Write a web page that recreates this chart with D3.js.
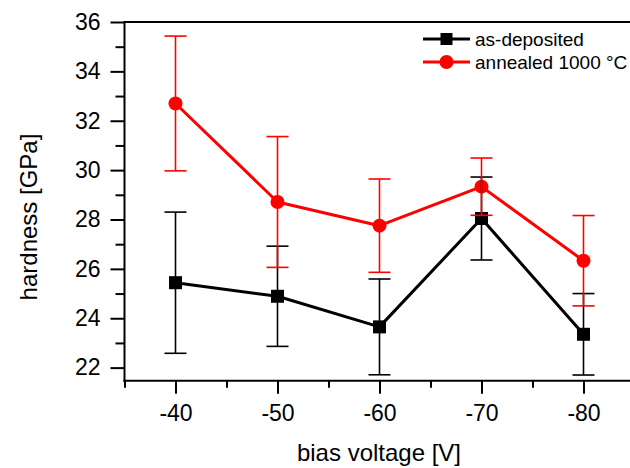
<!DOCTYPE html>
<html><head><meta charset="utf-8">
<script src="https://cdn.jsdelivr.net/npm/d3@7"></script>
<style>
body{margin:0;background:#fff;}
svg{display:block;font-family:"Liberation Sans",Arial,sans-serif;}
</style></head>
<body><svg id="c" width="630" height="468"></svg>
<script>
const biasVoltage = [-40, -50, -60, -70, -80];
const asDeposited = [25.44, 24.89, 23.65, 28.04, 23.35];
const asDepositedErr = [2.86, 2.03, 1.94, 1.68, 1.65];
const annealed = [32.70, 28.71, 27.75, 29.33, 26.33];
const annealedErr = [2.73, 2.65, 1.89, 1.16, 1.83];
const yMajorTicks = [22, 24, 26, 28, 30, 32, 34, 36];
const yMinorTicks = [23, 25, 27, 29, 31, 33, 35];
const xMajorTicks = [-40, -50, -60, -70, -80];
const xMinorTicks = [-35, -45, -55, -65, -75, -85];
const seriesNames = ["as-deposited", "annealed 1000 °C"];

const svg = d3.select("#c");
const x = d3.scaleLinear().domain([-35, -85]).range([124.5, 634.5]);
const y = d3.scaleLinear().domain([21.47, 36]).range([380.7, 22]);
const fmt = d => String(d);

// top frame line
svg.append("line").attr("x1", x(-35)).attr("x2", 640).attr("y1", y(36)).attr("y2", y(36))
  .attr("stroke", "#000").attr("stroke-width", 2);

// y axis
const gy = svg.append("g").attr("transform", `translate(${x(-35)},0)`);
gy.call(d3.axisLeft(y).tickValues(yMinorTicks).tickSize(9).tickSizeOuter(0).tickFormat(""));
gy.select(".domain").remove();
const gy2 = svg.append("g").attr("transform", `translate(${x(-35)},0)`);
gy2.call(d3.axisLeft(y).tickValues(yMajorTicks).tickSize(14).tickSizeOuter(0).tickPadding(10).tickFormat(fmt));
gy2.select(".domain").remove();
[gy, gy2].forEach(g => {
  g.selectAll("line").attr("stroke", "#000").attr("stroke-width", 2);
  g.selectAll("text").attr("font-size", 23).attr("fill", "#000").attr("font-family", "Liberation Sans, Arial, sans-serif");
});

// x axis
const gx = svg.append("g").attr("transform", `translate(0,${y(21.47)})`);
gx.call(d3.axisBottom(x).tickValues(xMinorTicks).tickSize(7).tickSizeOuter(0).tickFormat(""));
gx.select(".domain").remove();
const gx2 = svg.append("g").attr("transform", `translate(0,${y(21.47)})`);
gx2.call(d3.axisBottom(x).tickValues(xMajorTicks).tickSize(13).tickSizeOuter(0).tickPadding(11).tickFormat(fmt));
gx2.select(".domain").remove();
svg.append("line").attr("x1", x(-35) - 1).attr("x2", 640).attr("y1", y(21.47)).attr("y2", y(21.47))
  .attr("stroke", "#000").attr("stroke-width", 2);
svg.append("line").attr("x1", x(-35)).attr("x2", x(-35)).attr("y1", y(36) - 1).attr("y2", y(21.47) + 1)
  .attr("stroke", "#000").attr("stroke-width", 2);
[gx, gx2].forEach(g => {
  g.selectAll("line").attr("stroke", "#000").attr("stroke-width", 2);
  g.selectAll("text").attr("font-size", 23).attr("fill", "#000").attr("font-family", "Liberation Sans, Arial, sans-serif");
});

// axis titles
svg.append("text").attr("x", 379).attr("y", 461).attr("text-anchor", "middle")
  .attr("font-size", 24).attr("fill", "#000").text("bias voltage [V]");
svg.append("text").attr("transform", "translate(37,217) rotate(-90)").attr("text-anchor", "middle")
  .attr("font-size", 24).attr("fill", "#000").text("hardness [GPa]");

const line = d3.line().x(d => x(d[0])).y(d => y(d[1]));
const blackData = biasVoltage.map((v, i) => [v, asDeposited[i], asDepositedErr[i]]);
const redData = biasVoltage.map((v, i) => [v, annealed[i], annealedErr[i]]);

function drawSeries(data, color, shape) {
  svg.append("path").datum(data).attr("d", line).attr("fill", "none")
    .attr("stroke", color).attr("stroke-width", 3).attr("stroke-linejoin", "round");
  if (shape === "square") {
    svg.selectAll(null).data(data).enter().append("rect")
      .attr("x", d => x(d[0]) - 6.5).attr("y", d => y(d[1]) - 6.5)
      .attr("width", 13).attr("height", 13).attr("fill", color);
  } else {
    svg.selectAll(null).data(data).enter().append("circle")
      .attr("cx", d => x(d[0])).attr("cy", d => y(d[1])).attr("r", 7).attr("fill", color);
  }
}
function drawErr(data, color) {
  const g = svg.append("g").attr("stroke", color).attr("stroke-width", 1.6);
  data.forEach(d => {
    const cx = x(d[0]);
    g.append("line").attr("x1", cx).attr("x2", cx).attr("y1", y(d[1] + d[2])).attr("y2", y(d[1] - d[2]));
    g.append("line").attr("x1", cx - 11).attr("x2", cx + 11).attr("y1", y(d[1] + d[2])).attr("y2", y(d[1] + d[2]));
    g.append("line").attr("x1", cx - 11).attr("x2", cx + 11).attr("y1", y(d[1] - d[2])).attr("y2", y(d[1] - d[2]));
  });
}
drawSeries(blackData, "#000", "square");
drawSeries(redData, "#ff0000", "circle");
drawErr(blackData, "#000");
drawErr(redData, "#ff0000");

// legend
const leg = [
  {name: seriesNames[0], color: "#000", shape: "square", y: 39},
  {name: seriesNames[1], color: "#ff0000", shape: "circle", y: 62}
];
leg.forEach(l => {
  svg.append("line").attr("x1", 423).attr("x2", 470).attr("y1", l.y).attr("y2", l.y)
    .attr("stroke", l.color).attr("stroke-width", 3);
  if (l.shape === "square") {
    svg.append("rect").attr("x", 446.5 - 6).attr("y", l.y - 6).attr("width", 12).attr("height", 12).attr("fill", l.color);
  } else {
    svg.append("circle").attr("cx", 446.5).attr("cy", l.y).attr("r", 7).attr("fill", l.color);
  }
  svg.append("text").attr("x", 475).attr("y", l.y).attr("dy", "0.35em")
    .attr("font-size", 19).attr("fill", "#000").text(l.name);
});
</script></body></html>
